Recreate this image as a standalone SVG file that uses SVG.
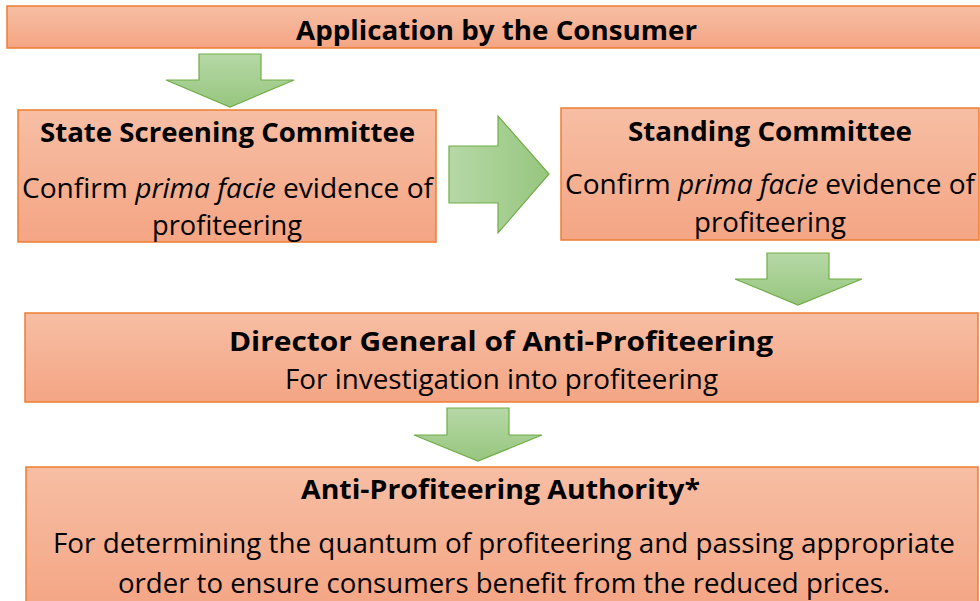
<svg xmlns="http://www.w3.org/2000/svg" width="980" height="601" viewBox="0 0 980 601">
  <defs>
    <linearGradient id="boxFill" x1="0" y1="0" x2="0" y2="1">
      <stop offset="0" stop-color="#F7BEA4"/>
      <stop offset="1" stop-color="#F4A584"/>
    </linearGradient>
    <linearGradient id="arrowDown" x1="0" y1="0" x2="0" y2="1">
      <stop offset="0" stop-color="#B6D8A6"/>
      <stop offset="1" stop-color="#97C67F"/>
    </linearGradient>
    <linearGradient id="arrowRight" x1="0" y1="0" x2="1" y2="0">
      <stop offset="0" stop-color="#B6D8A6"/>
      <stop offset="1" stop-color="#97C67F"/>
    </linearGradient>
  </defs>
  <style>
    .box { fill: url(#boxFill); stroke: #ED7D31; stroke-width: 1.5; }
    .arrow { stroke: #70AD47; stroke-width: 1.2; stroke-linejoin: miter; }
    .down { fill: url(#arrowDown); }
    .right { fill: url(#arrowRight); }
    text { font-family: "Open Sans", "Noto Sans", "Liberation Sans", sans-serif; fill: #000; text-anchor: middle; font-size: 26.5px; }
    .title { font-weight: bold; }
    .it { font-style: italic; }
  </style>

  <g id="connectors">
    <polygon class="arrow down" points="199,54 261,54 261,80 294,80 230,107 166,80 199,80"/>
    <polygon class="arrow right" points="449,146 498,146 498,116 549,174 498,233 498,203 449,203"/>
    <polygon class="arrow down" points="767,253 829,253 829,279 862,279 798,305 735,279 767,279"/>
    <polygon class="arrow down" points="447,408 509,408 509,435 542,435 478,461 414,435 447,435"/>
  </g>

  <g id="application">
    <rect class="box" x="7" y="6" width="976" height="42"/>
    <text class="title" x="496.5" y="40" textLength="401" lengthAdjust="spacingAndGlyphs">Application by the Consumer</text>
  </g>

  <g id="state-screening">
    <rect class="box" x="18" y="110" width="418" height="132"/>
    <text class="title" x="227.5" y="142" textLength="375" lengthAdjust="spacingAndGlyphs">State Screening Committee</text>
    <text x="227.5" y="198" textLength="411" lengthAdjust="spacingAndGlyphs">Confirm <tspan class="it">prima facie</tspan> evidence of</text>
    <text x="227" y="235" textLength="150" lengthAdjust="spacingAndGlyphs">profiteering</text>
  </g>

  <g id="standing">
    <rect class="box" x="561" y="108" width="418" height="132"/>
    <text class="title" x="770" y="140.5" textLength="284" lengthAdjust="spacingAndGlyphs">Standing Committee</text>
    <text x="770" y="194" textLength="410" lengthAdjust="spacingAndGlyphs">Confirm <tspan class="it">prima facie</tspan> evidence of</text>
    <text x="770" y="232" textLength="152" lengthAdjust="spacingAndGlyphs">profiteering</text>
  </g>

  <g id="director-general">
    <rect class="box" x="25" y="313" width="953" height="89"/>
    <text class="title" x="501" y="351" textLength="544" lengthAdjust="spacingAndGlyphs">Director General of Anti-Profiteering</text>
    <text x="501.5" y="389" textLength="433" lengthAdjust="spacingAndGlyphs">For investigation into profiteering</text>
  </g>

  <g id="authority">
    <rect class="box" x="26" y="467" width="952" height="145"/>
    <text class="title" x="500.5" y="499" textLength="399" lengthAdjust="spacingAndGlyphs">Anti-Profiteering Authority*</text>
    <text x="504" y="553" textLength="902" lengthAdjust="spacingAndGlyphs">For determining the quantum of profiteering and passing appropriate</text>
    <text x="504" y="593" textLength="772" lengthAdjust="spacingAndGlyphs">order to ensure consumers benefit from the reduced prices.</text>
  </g>
</svg>
